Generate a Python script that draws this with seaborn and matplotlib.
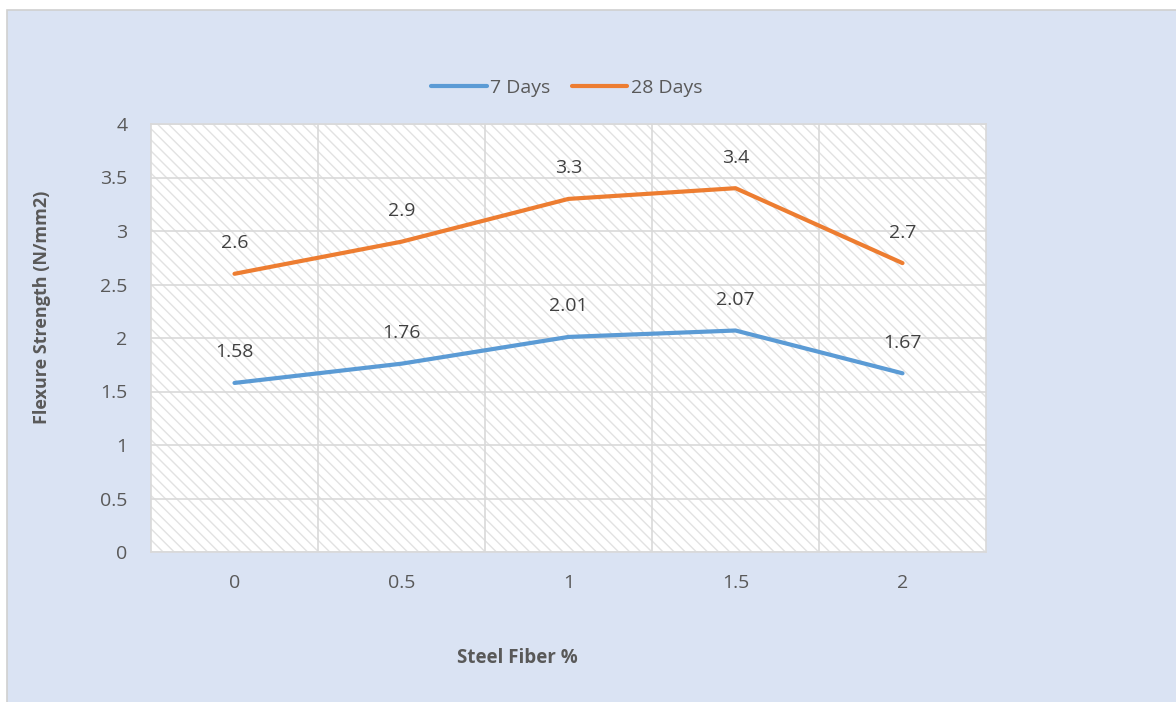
import matplotlib
matplotlib.use("Agg")
import matplotlib.pyplot as plt
from matplotlib.patches import Rectangle
from matplotlib.ticker import FixedLocator
import seaborn as sns
import pandas as pd

steel_fiber = ["0", "0.5", "1", "1.5", "2"]
days_7 = [1.58, 1.76, 2.01, 2.07, 1.67]
days_28 = [2.6, 2.9, 3.3, 3.4, 2.7]
series_names = ["7 Days", "28 Days"]
colors = ["#5B9BD5", "#ED7D31"]
y_ticks = [0, 0.5, 1, 1.5, 2, 2.5, 3, 3.5, 4]
y_tick_labels = ["0", "0.5", "1", "1.5", "2", "2.5", "3", "3.5", "4"]

sns.set_theme(style="white")
plt.rcParams["font.family"] = ["Open Sans", "DejaVu Sans"]
plt.rcParams["hatch.linewidth"] = 1.0

TEXT = "#595959"

df = pd.DataFrame({
    "Steel Fiber %": steel_fiber * 2,
    "Flexure Strength (N/mm2)": days_7 + days_28,
    "Age": [series_names[0]] * 5 + [series_names[1]] * 5,
})

W, H = 1176, 702
fig = plt.figure(figsize=(W / 100, H / 100), dpi=100)
fig.patch.set_facecolor("white")
# chart area panel behind everything
fig.patches.append(Rectangle((7 / W, -0.01), 1.0, 1 - 10 / H + 0.01,
                             transform=fig.transFigure, facecolor="#DAE3F3",
                             edgecolor="#D0D0D0", linewidth=1.2, zorder=-10))

ax = fig.add_axes([151 / W, 150 / H, 835 / W, 428 / H])
ax.set_facecolor("white")
ax.add_patch(Rectangle((0, 0), 1, 1, transform=ax.transAxes, facecolor="white",
                       edgecolor="#E2E2E2", hatch="\\" * 3, linewidth=0,
                       zorder=0))

sns.lineplot(data=df, x="Steel Fiber %", y="Flexure Strength (N/mm2)",
             hue="Age", palette=colors, linewidth=3, sort=False, ax=ax,
             zorder=3)

ax.set_xlim(-0.5, 4.5)
ax.set_ylim(0, 4)
ax.set_yticks(y_ticks)
ax.set_yticklabels(y_tick_labels)
ax.xaxis.set_minor_locator(FixedLocator([0.5, 1.5, 2.5, 3.5]))
ax.grid(axis="y", which="major", color="#D9D9D9", linewidth=1.2, zorder=1)
ax.grid(axis="x", which="minor", color="#D9D9D9", linewidth=1.2, zorder=1)
ax.set_axisbelow(True)
for s in ax.spines.values():
    s.set_color("#D9D9D9")
    s.set_linewidth(1.2)
ax.tick_params(axis="both", which="both", length=0, labelsize=14,
               labelcolor=TEXT)
ax.tick_params(axis="x", pad=16)
ax.tick_params(axis="y", pad=17)

ax.set_xlabel("")
ax.set_ylabel("")
fig.text(517 / W, 1 - 658 / H, "Steel Fiber %", fontsize=13.5,
         fontweight="bold", color=TEXT, ha="center", va="center")
fig.text(42 / W, 1 - 307 / H, "Flexure Strength (N/mm2)", fontsize=13,
         fontweight="bold", color=TEXT, ha="center", va="center",
         rotation=90)

for vals in (days_7, days_28):
    for i, v in enumerate(vals):
        ax.annotate(f"{v:g}", (i, v), xytext=(0, 22), textcoords="offset points",
                    ha="center", va="center", fontsize=14, color="#404040",
                    zorder=4)

handles, labels = ax.get_legend_handles_labels()
ax.legend(handles, labels, loc="center", bbox_to_anchor=(567 / W, 1 - 88 / H),
          bbox_transform=fig.transFigure, ncol=2, frameon=False, fontsize=14,
          labelcolor=TEXT, handlelength=2.85, handletextpad=0.2,
          columnspacing=1.1, title=None)

fig.savefig("out.png", dpi=100, facecolor=fig.get_facecolor())
